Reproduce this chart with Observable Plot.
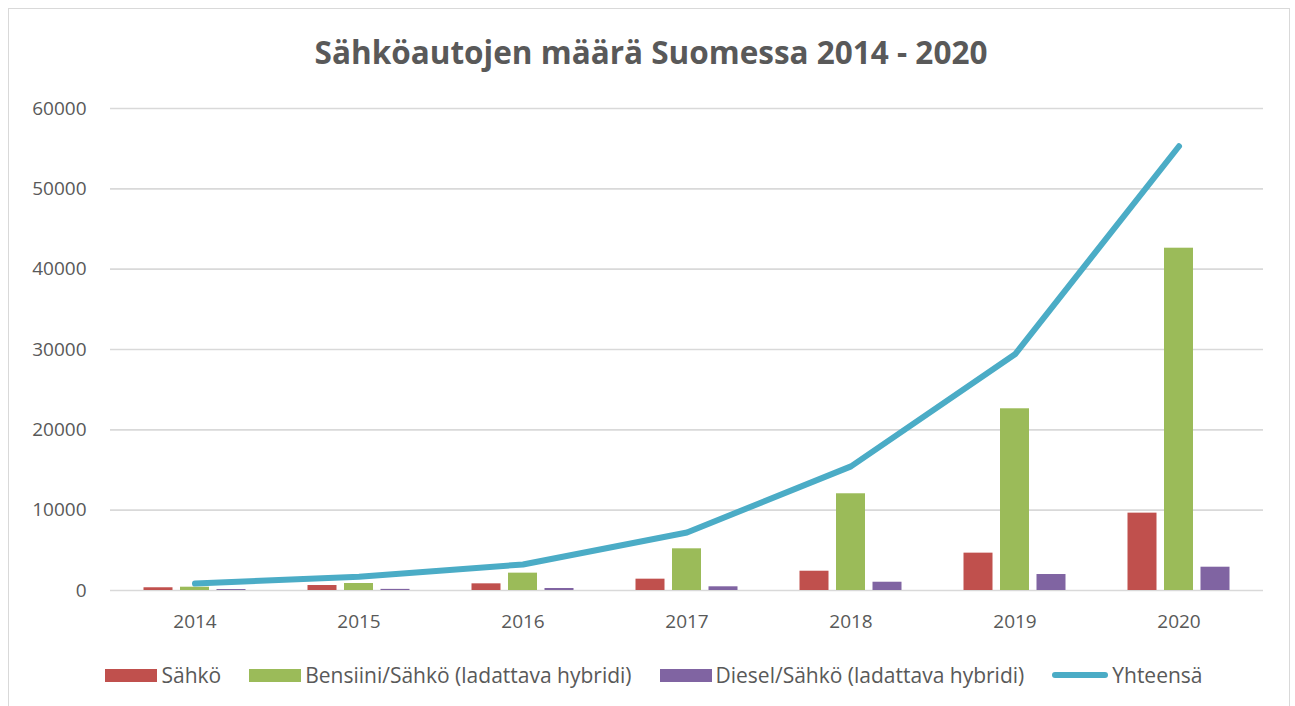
<!DOCTYPE html>
<html>
<head>
<meta charset="utf-8">
<script src="https://cdn.jsdelivr.net/npm/d3@7"></script>
<script src="https://cdn.jsdelivr.net/npm/@observablehq/plot@0.6"></script>
<style>
  html, body { margin: 0; padding: 0; background: #fff; width: 1295px; height: 706px; overflow: hidden; }
  body { position: relative; font-family: "Open Sans", sans-serif; color: #595959; }
  #frame { position: absolute; left: 8px; top: 8px; width: 1282px; height: 720px; border: 1.5px solid #d9d9d9; box-sizing: border-box; }
  #title { position: absolute; left: 0; width: 1302px; top: 30px; text-align: center; font-size: 31.5px; font-weight: 700; color: #595959; line-height: 44px; }
  #chart { position: absolute; left: 0; top: 0; }
  #legend { position: absolute; left: 0; width: 1308px; top: 660px; display: flex; justify-content: center; align-items: center; gap: 28px; font-size: 21px; color: #595959; line-height: 30px; }
  .item { display: flex; align-items: center; gap: 4px; white-space: nowrap; }
  .sw { width: 52px; height: 13px; }
  .ln { width: 56px; height: 6px; border-radius: 3px; }
</style>
</head>
<body>
<div id="frame"></div>
<div id="chart"></div>
<div id="title">Sähköautojen määrä Suomessa 2014 - 2020</div>
<div id="legend"></div>
<script>
const years = ["2014", "2015", "2016", "2017", "2018", "2019", "2020"];
const sahko = [340, 620, 830, 1410, 2400, 4650, 9630];
const bensiini = [410, 870, 2160, 5190, 12040, 22620, 42610];
const diesel = [120, 140, 250, 460, 1030, 1990, 2900];
const yhteensa = [870, 1700, 3240, 7220, 15450, 29400, 55300];
const seriesNames = ["Sähkö", "Bensiini/Sähkö (ladattava hybridi)", "Diesel/Sähkö (ladattava hybridi)", "Yhteensä"];
const colors = ["#c0504d", "#9bbb59", "#8064a2", "#4bacc6"];
const yTicks = [0, 10000, 20000, 30000, 40000, 50000, 60000];

const barSeries = [sahko, bensiini, diesel];
const rows = barSeries.map(vals => years.map((y, i) => ({year: y, value: vals[i]})));
const lineRows = years.map((y, i) => ({year: y, value: yhteensa[i]}));
const offsets = [-36.5, 0, 36.5];

const chart = Plot.plot({
  width: 1295,
  height: 650,
  marginTop: 108,
  marginBottom: 60,
  marginLeft: 110,
  marginRight: 32,
  style: {fontFamily: "Open Sans, sans-serif", fontSize: "19px", color: "#595959", background: "transparent"},
  x: {domain: years, paddingInner: 0.824, paddingOuter: 0.412, label: null},
  y: {domain: [0, 60000], label: null},
  marks: [
    Plot.gridY(yTicks, {stroke: "#d9d9d9", strokeOpacity: 1, strokeWidth: 1.6}),
    Plot.axisY({ticks: yTicks, tickSize: 0, tickPadding: 24, tickFormat: d3.format("d"), label: null, fill: "#595959"}),
    Plot.axisX({tickSize: 0, tickPadding: 24, label: null, fill: "#595959"}),
    ...rows.map((r, k) => Plot.barY(r, {x: "year", y: "value", fill: colors[k], dx: offsets[k]})),
    Plot.line(lineRows, {x: "year", y: "value", stroke: colors[3], strokeWidth: 6, strokeLinecap: "round", strokeLinejoin: "round"})
  ]
});
document.getElementById("chart").appendChild(chart);

const legend = document.getElementById("legend");
seriesNames.forEach((name, i) => {
  const item = document.createElement("div");
  item.className = "item";
  const sw = document.createElement("div");
  sw.className = i < 3 ? "sw" : "ln";
  sw.style.background = colors[i];
  const t = document.createElement("span");
  t.textContent = name;
  item.appendChild(sw);
  item.appendChild(t);
  legend.appendChild(item);
});
</script>
</body>
</html>
